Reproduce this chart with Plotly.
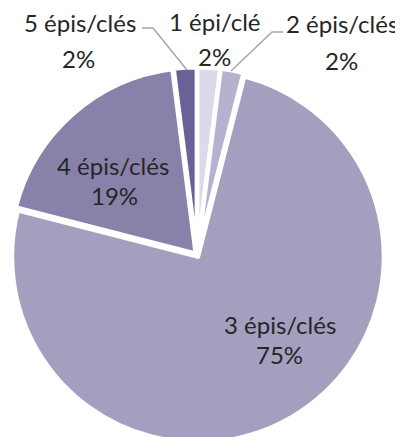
import plotly.graph_objects as go

categories = ["1 épi/clé", "2 épis/clés", "3 épis/clés", "4 épis/clés", "5 épis/clés"]
values = [2, 2, 75, 19, 2]
percent_labels = ["2%", "2%", "75%", "19%", "2%"]
colors = ["#DCDAE9", "#B5B1CF", "#A39FBF", "#8882AB", "#6A6196"]

W, H = 403, 437
OFF = 8  # page body margin offset observed in the rendering


def px(x, y):
    """screen pixel -> paper coords"""
    return (x - OFF) / W, 1 - (y - OFF) / H


# pie geometry (screen pixels)
R, PULL = 186, 0.01
CX, CY = 197, 255
reff = R * (1 + PULL)
fcx, fcy = CX - OFF, H - (CY - OFF)

fig = go.Figure(go.Pie(
    labels=categories,
    values=values,
    sort=False,
    direction="clockwise",
    rotation=0,
    pull=[PULL] * len(values),
    marker=dict(colors=colors, line=dict(color="white", width=4.5)),
    textinfo="none",
    hoverinfo="label+percent",
    domain=dict(x=[(fcx - reff) / W, (fcx + reff) / W],
                y=[(fcy - reff) / H, (fcy + reff) / H]),
    showlegend=False,
))

# label positions (screen pixels): (x, y line 1), (x, y line 2)
label_pos = {
    "1 épi/clé": ((215, 21), (215, 57)),
    "2 épis/clés": ((342, 24), (341, 61)),
    "3 épis/clés": ((280, 324), (279, 354)),
    "4 épis/clés": ((113, 165), (114, 196)),
    "5 épis/clés": ((80, 22), (78, 59)),
}
font = dict(family="Lato", size=24, color="#262626")
for cat, pct in zip(categories, percent_labels):
    (x1, y1), (x2, y2) = label_pos[cat]
    for txt, (x, y) in ((cat, (x1, y1)), (pct, (x2, y2))):
        ax, ay = px(x, y)
        fig.add_annotation(x=ax, y=ay, xref="paper", yref="paper", text=txt,
                           showarrow=False, font=font,
                           xanchor="center", yanchor="middle")


def path(points):
    s = ""
    for i, (x, y) in enumerate(points):
        fx, fy = px(x, y)
        s += ("M" if i == 0 else "L") + f"{fx},{fy} "
    return s.strip()


leaders = [
    [(142, 28), (153, 28), (187, 70)],
    [(283, 32), (272, 32), (231, 71)],
]
for pts in leaders:
    fig.add_shape(type="path", path=path(pts), xref="paper", yref="paper",
                  line=dict(color="#A6A6A6", width=1.5))

fig.update_layout(
    width=W, height=H,
    margin=dict(l=0, r=0, t=0, b=0),
    paper_bgcolor="white",
    plot_bgcolor="white",
)

fig.write_html("out.html")
